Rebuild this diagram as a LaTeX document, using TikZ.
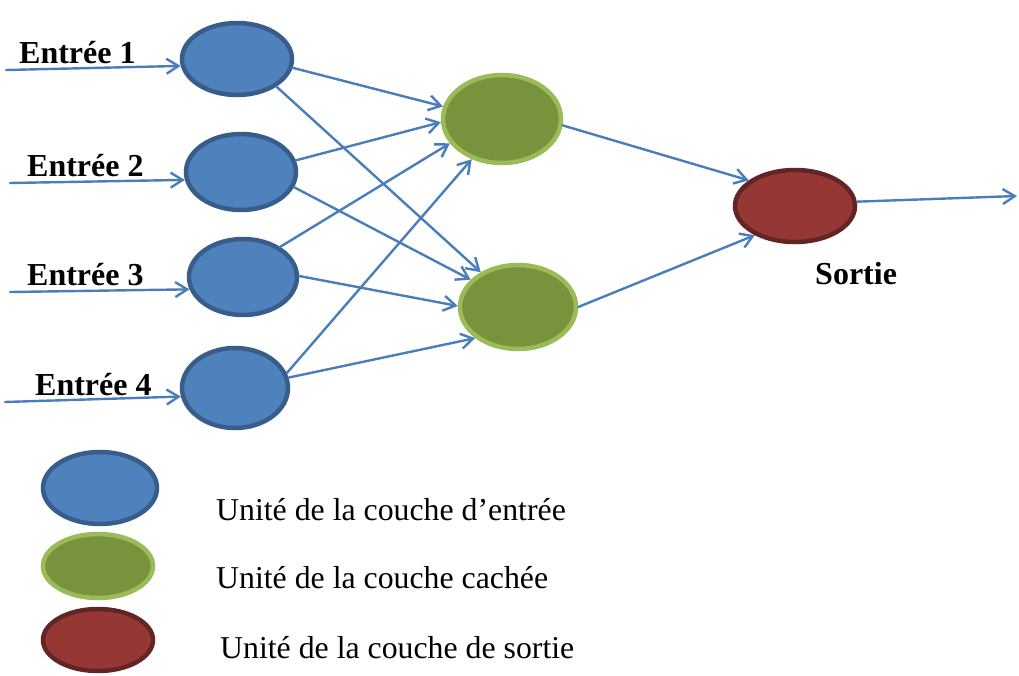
\documentclass[tikz,border=0pt]{standalone}
\usepackage{fontspec}
\setmainfont{Liberation Serif}
\usetikzlibrary{arrows.meta,shapes.geometric}

\definecolor{inFill}{HTML}{4F81BD}
\definecolor{inEdge}{HTML}{385D8A}
\definecolor{hidFill}{HTML}{77933C}
\definecolor{hidEdge}{HTML}{9BBB59}
\definecolor{outFill}{HTML}{953735}
\definecolor{outEdge}{HTML}{632523}
\definecolor{wire}{HTML}{4A7EBB}

\tikzset{
  unit/.style={ellipse, inner sep=0pt, line width=4.5pt},
  inunit/.style={unit, fill=inFill, draw=inEdge},
  hidunit/.style={unit, fill=hidFill, draw=hidEdge},
  outunit/.style={unit, fill=outFill, draw=outEdge},
  wirearrow/.style={draw=wire, line width=2.4pt, line cap=round,
    -{Straight Barb[length=12pt,width=15pt,line width=2.4pt]}},
  boldlabel/.style={anchor=base west, inner sep=0pt,
    font=\fontsize{32}{36}\selectfont\bfseries},
  legendtext/.style={anchor=base west, inner sep=0pt,
    font=\fontsize{31.8}{36}\selectfont}
}

\begin{document}
\begin{tikzpicture}[x=1pt,y=-1pt]
\useasboundingbox (0,0) rectangle (1019,675);

% input layer
\node[inunit, minimum width=110pt, minimum height=72pt] (I1) at (237,59) {};
\node[inunit, minimum width=110pt, minimum height=76pt] (I2) at (241,172) {};
\node[inunit, minimum width=108pt, minimum height=76pt] (I3) at (243,277) {};
\node[inunit, minimum width=106pt, minimum height=80pt] (I4) at (235,388) {};

% hidden layer
\node[hidunit, minimum width=118pt, minimum height=88pt] (H1) at (502,119) {};
\node[hidunit, minimum width=116pt, minimum height=84pt] (H2) at (518,307) {};

% output unit
\node[outunit, minimum width=120pt, minimum height=72pt] (O) at (795,206) {};

% input labels
\node[boldlabel] (t1) at (19,63) {Entrée 1};
\node[boldlabel] (t2) at (27,176) {Entrée 2};
\node[boldlabel] (t3) at (27,285) {Entrée 3};
\node[boldlabel] (t4) at (35,395) {Entrée 4};
\node[boldlabel] (ts) at (815,284) {Sortie};

% free ends of the external arrows
\coordinate (s1) at (6,70);
\coordinate (s2) at (10,183);
\coordinate (s3) at (10,292);
\coordinate (s4) at (5,402);
\coordinate (e0) at (1017,196);

\draw[wirearrow] (s1) -- (I1.187);
\draw[wirearrow] (s2) -- (I2.188);
\draw[wirearrow] (s3) -- (I3.193);
\draw[wirearrow] (s4) -- (I4.189);

% input -> hidden
\draw[wirearrow] (I1.-9)  -- (H1.168);
\draw[wirearrow] (I1.-35) -- (H2.137);
\draw[wirearrow] (I2.12)  -- (H1.183);
\draw[wirearrow] (I2.-16) -- (H2.150);
\draw[wirearrow] (I3.39)  -- (H1.205);
\draw[wirearrow] (I3.1)   -- (H2.179);
\draw[wirearrow] (I4.16)  -- (H1.233);
\draw[wirearrow] (I4.11)  -- (H2.216);

% hidden -> output
\draw[wirearrow] (H1.-6) -- (O.151);
\draw[wirearrow] (H2.0)  -- (O.216);
\draw[wirearrow] (O.4)   -- (e0);

% legend
\node[inunit,  minimum width=114pt, minimum height=72pt] (L1) at (100,488) {};
\node[hidunit, minimum width=110pt, minimum height=64pt] (L2) at (98,566) {};
\node[outunit, minimum width=110pt, minimum height=62pt] (L3) at (98,640) {};
\node[legendtext] (d1) at (216,520) {Unité de la couche d’entrée};
\node[legendtext] (d2) at (216,588) {Unité de la couche cachée};
\node[legendtext] (d3) at (220,658) {Unité de la couche de sortie};
\end{tikzpicture}
\end{document}
